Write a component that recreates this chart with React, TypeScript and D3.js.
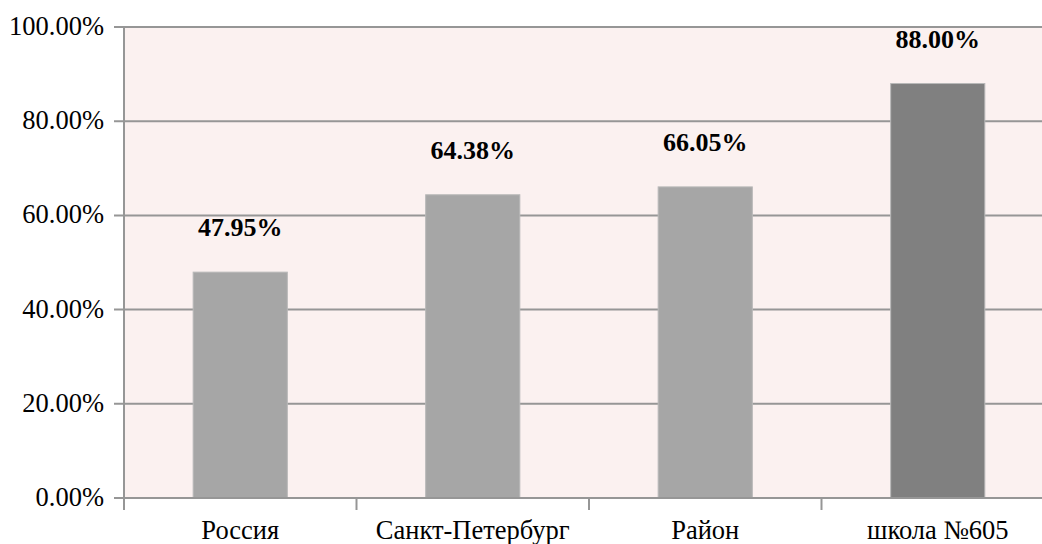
import React from "react";
import * as d3 from "d3";

const categories = ["Россия", "Санкт-Петербург", "Район", "школа №605"];
const values = [47.95, 64.38, 66.05, 88.0];
const yTicks = [0, 20, 40, 60, 80, 100];
const barColors = ["#A6A6A6", "#A6A6A6", "#A6A6A6", "#808080"];

export default function App() {
  const W = 1042, H = 544;
  const left = 124, top = 27, bottom = 498, right = 1054;
  const x = d3.scaleBand<string>().domain(categories).range([left, right]).paddingInner(0).paddingOuter(0);
  const y = d3.scaleLinear().domain([0, 100]).range([bottom, top]);
  const bw = x.bandwidth() * 0.405;
  const font = "'Liberation Serif', 'DejaVu Serif', serif";
  return (
    <svg width={W} height={H} style={{ position: "absolute", left: 0, top: 0 }}>
      <rect x={0} y={0} width={W} height={H} fill="#fff" />
      <rect x={left} y={top} width={right - left} height={bottom - top} fill="#FBF1F0" />
      {yTicks.map((t) => (
        <g key={t}>
          <line x1={left - 10} x2={right} y1={y(t)} y2={y(t)} stroke="#969696" strokeWidth={2} />
          <text x={104} y={y(t) + 8} textAnchor="end" fontFamily={font} fontSize={26.5} fill="#000">
            {d3.format(".2f")(t) + "%"}
          </text>
        </g>
      ))}
      {categories.map((c, i) => {
        const cx = (x(c) as number) + x.bandwidth() / 2;
        return (
          <g key={c}>
            <rect x={cx - bw / 2} y={y(values[i])} width={bw} height={bottom - y(values[i])}
              fill={barColors[i]} stroke="#B8B8B8" strokeWidth={1} />
            <text x={cx} y={y(values[i]) - 36} textAnchor="middle" fontFamily={font} fontSize={26}
              fontWeight="bold" fill="#000">{d3.format(".2f")(values[i]) + "%"}</text>
            <text x={cx} y={539} textAnchor="middle" fontFamily={font} fontSize={26.5} fill="#000">{c}</text>
          </g>
        );
      })}
      {categories.map((c) => (
        <line key={"t" + c} x1={x(c) as number} x2={x(c) as number} y1={bottom} y2={bottom + 12} stroke="#969696" strokeWidth={2} />
      ))}
      <line x1={left} x2={left} y1={top} y2={bottom + 12} stroke="#969696" strokeWidth={2} />
      <line x1={left} x2={right} y1={bottom} y2={bottom} stroke="#969696" strokeWidth={2} />
    </svg>
  );
}
